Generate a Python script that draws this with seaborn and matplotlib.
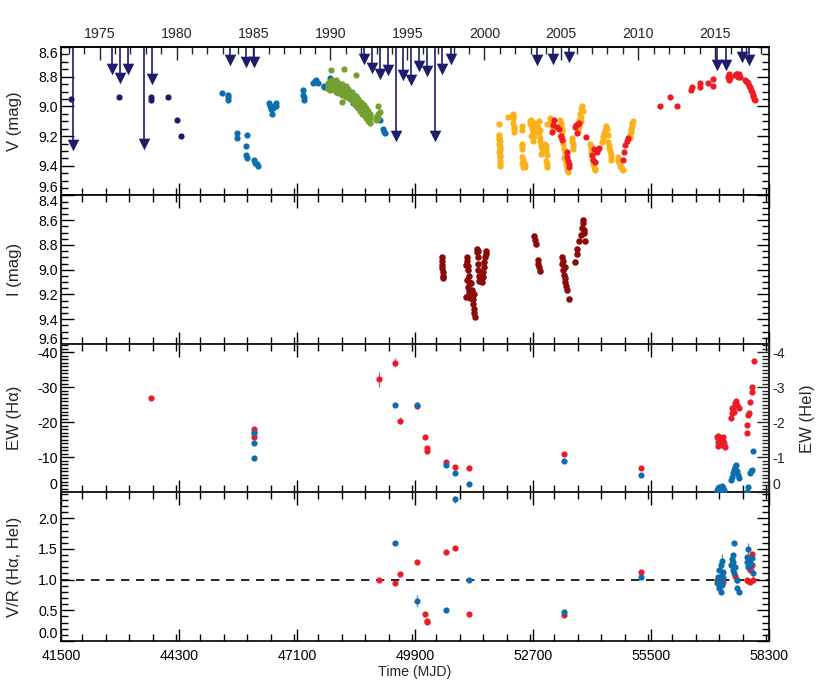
import matplotlib
matplotlib.use("Agg")
import matplotlib.pyplot as plt
from matplotlib.ticker import MultipleLocator, FormatStrFormatter
import seaborn as sns

sns.set_theme(style="ticks")
plt.rcParams["font.family"] = ["Liberation Sans", "DejaVu Sans"]
plt.rcParams["axes.unicode_minus"] = False
plt.rcParams["font.size"] = 10.2

# Colours
NAVY = "#1f1d6b"
BLUE = "#0b6fad"
GREEN = "#73a02e"
YELLOW = "#fbb21a"
RED = "#ed1c24"
DARKRED = "#8b0a0a"
GREY = "#8c8c8c"

# ---- V band: upper limits (arrows) ----
lim_mjd = [41792, 42703, 42900, 43083, 43477, 43652, 45510, 45883, 46080,
           48690, 48873, 49070, 49253, 49442, 49623, 49798, 50002, 50178,
           50375, 50548, 50747, 52788, 53168, 53555, 57074, 57281, 57653, 57833]
lim_v = [9.26, 8.75, 8.81, 8.75, 9.255, 8.815, 8.69, 8.70, 8.70,
         8.68, 8.74, 8.78, 8.755, 9.20, 8.79, 8.82, 8.725, 8.76,
         9.20, 8.75, 8.68, 8.69, 8.68, 8.67, 8.72, 8.72, 8.67, 8.69]

# ---- V band: photometry by source ----
navy_mjd = [41737, 42884, 43636, 43640, 44046, 44245, 44348]
navy_v = [8.95, 8.94, 8.935, 8.955, 8.94, 9.09, 9.20]

blue_mjd = [45328, 45456, 45470, 45460, 45669, 45680, 45907, 45900, 45895, 45910,
            46080, 46110, 46140, 46175, 46440, 46460, 46480, 46500, 46520, 46560,
            46600, 46610, 47240, 47250, 47260, 47255, 47480, 47520, 47560, 47599,
            47729, 47740, 47883, 48429, 49070, 49150, 49165, 49180]
blue_v = [8.908, 8.92, 8.94, 8.96, 9.18, 9.21, 9.19, 9.27, 9.33, 9.345,
          9.36, 9.38, 9.39, 9.40, 8.98, 9.00, 9.02, 9.05, 9.01, 9.00,
          8.98, 9.00, 8.89, 8.92, 8.94, 8.96, 8.84, 8.83, 8.82, 8.84,
          8.86, 8.87, 8.81, 8.98, 9.09, 9.15, 9.17, 9.18]

green_mjd = [47836, 47836, 47836, 47883, 47883, 47883, 47883, 47931, 47931, 47931,
             47931, 47915, 47978, 47978, 47978, 48026, 48026, 48026, 48026, 48026,
             48073, 48073, 48073, 48073, 48121, 48121, 48121, 48168, 48168, 48168,
             48168, 48160, 48216, 48216, 48216, 48208, 48263, 48263, 48263, 48263,
             48311, 48311, 48311, 48358, 48358, 48358, 48405, 48405, 48405, 48453,
             48453, 48453, 48500, 48500, 48500, 48500, 48548, 48548, 48548, 48595,
             48595, 48595, 48643, 48643, 48643, 48690, 48690, 48690, 48738, 48738,
             48738, 48785, 48785, 48785, 48833, 48833, 48833, 48975, 48975, 49022,
             49022, 49022, 49070]
green_v = [8.84, 8.86, 8.88, 8.83, 8.85, 8.87, 8.89, 8.82, 8.84, 8.86,
           8.88, 8.755, 8.83, 8.85, 8.87, 8.82, 8.84, 8.86, 8.88, 8.90,
           8.84, 8.86, 8.88, 8.91, 8.85, 8.87, 8.89, 8.85, 8.88, 8.90,
           8.92, 8.97, 8.87, 8.89, 8.91, 8.75, 8.86, 8.89, 8.92, 8.94,
           8.88, 8.91, 8.93, 8.90, 8.92, 8.95, 8.90, 8.93, 8.96, 8.92,
           8.95, 8.98, 8.93, 8.96, 9.00, 8.79, 8.95, 8.98, 9.01, 8.97,
           9.00, 9.03, 8.98, 9.02, 9.05, 8.99, 9.03, 9.06, 9.01, 9.04,
           9.08, 9.03, 9.07, 9.10, 9.05, 9.08, 9.11, 9.07, 9.09, 8.995,
           9.05, 9.08, 9.04]

yellow_mjd = [51894, 51900, 51905, 51900, 51910, 51905, 51915, 51910, 51920,
              51902, 51907, 51912, 51908, 51915, 51918,
              52095, 52214, 52225, 52235, 52240, 52250, 52220, 52245,
              52440, 52445, 52440, 52450, 52440, 52450, 52455, 52511, 52515, 52447, 52452,
              52629, 52660, 52689, 52720, 52748, 52680, 52710, 52650, 52700, 52740,
              52640, 52670, 52730,
              52830, 52850, 52867, 52890, 52910, 52900, 52850, 52875, 52880, 52860,
              52985, 53010, 53030, 53010, 53040, 53044, 53000, 53020, 53035,
              53104, 53130, 53150, 53163,
              53341, 53365, 53390, 53400, 53420, 53440, 53460, 53480, 53500, 53519,
              53350, 53430, 53355, 53380, 53410, 53450, 53470, 53490, 53510,
              53614, 53638, 53660, 53625, 53650,
              53756, 53780, 53800, 53816, 53840, 53860, 53875, 53850, 53830, 53790, 53770,
              54053, 54075, 54100, 54120, 54150, 54172, 54065, 54088, 54110, 54135, 54160,
              54340, 54370, 54409, 54430, 54450, 54468, 54390, 54355,
              54490, 54510, 54540, 54560, 54500, 54525, 54550,
              54706, 54740, 54790, 54824, 54720, 54765, 54810,
              55002, 55020, 55040, 55062, 55010, 55030, 55050]
yellow_v = [9.12, 9.19, 9.22, 9.25, 9.28, 9.31, 9.34, 9.37, 9.40,
            9.205, 9.235, 9.265, 9.295, 9.325, 9.385,
            9.07, 9.05, 9.08, 9.11, 9.14, 9.17, 9.065, 9.155,
            9.13, 9.16, 9.25, 9.29, 9.34, 9.38, 9.41, 9.39, 9.41, 9.27, 9.36,
            9.10, 9.09, 9.12, 9.11, 9.13, 9.15, 9.18, 9.20, 9.23, 9.16,
            9.12, 9.14, 9.20,
            9.14, 9.18, 9.21, 9.25, 9.29, 9.32, 9.10, 9.23, 9.27, 9.16,
            9.25, 9.29, 9.33, 9.37, 9.41, 9.12, 9.27, 9.31, 9.39,
            9.08, 9.10, 9.13, 9.16,
            9.09, 9.13, 9.17, 9.21, 9.25, 9.29, 9.33, 9.37, 9.41, 9.44,
            9.20, 9.35, 9.11, 9.15, 9.23, 9.31, 9.35, 9.39, 9.43,
            9.21, 9.25, 9.29, 9.23, 9.27,
            9.17, 9.13, 9.09, 9.05, 9.02, 9.00, 9.03, 9.10, 9.07, 9.11, 9.15,
            9.25, 9.29, 9.33, 9.37, 9.41, 9.43, 9.27, 9.31, 9.35, 9.39, 9.42,
            9.24, 9.20, 9.16, 9.13, 9.15, 9.19, 9.18, 9.22,
            9.24, 9.28, 9.32, 9.36, 9.26, 9.30, 9.34,
            9.34, 9.38, 9.41, 9.43, 9.36, 9.40, 9.42,
            9.21, 9.17, 9.13, 9.10, 9.19, 9.15, 9.11]

red_mjd = [53144, 53182, 53199, 53277, 53325, 53358, 53382,
           53500, 53515, 53531, 53545, 53555,
           53697, 53720, 53760, 53800, 53752, 53958,
           54093, 54124, 54172, 54212, 54243, 54267, 54148,
           54844, 54868, 54884, 54924, 54962,
           55714, 55944, 56110, 56443, 56467, 56663, 56663, 56846, 56965, 56965,
           57328, 57340, 57352, 57375, 57494, 57520, 57542, 57565, 57589, 57613,
           57732, 57760, 57779, 57803, 57830, 57850, 57874, 57898, 57910, 57922,
           57945, 57969]
red_v = [9.17, 9.125, 9.09, 9.137, 9.15, 9.20, 9.226,
         9.31, 9.34, 9.37, 9.39, 9.41,
         9.14, 9.125, 9.12, 9.11, 9.18, 9.205,
         9.33, 9.36, 9.375, 9.31, 9.29, 9.28, 9.29,
         9.36, 9.31, 9.26, 9.23, 9.21,
         9.00, 8.935, 8.997, 8.89, 8.867, 8.84, 8.87, 8.84, 8.815, 8.86,
         8.80, 8.82, 8.78, 8.81, 8.79, 8.78, 8.785, 8.80, 8.78, 8.80,
         8.82, 8.83, 8.835, 8.84, 8.86, 8.87, 8.89, 8.90, 8.92, 8.93,
         8.95, 8.96]

# ---- I band ----
i_mjd = [50534, 50540, 50545, 50550, 50555, 50560, 50565,
         51110, 51127, 51140, 51150, 51160, 51170, 51130, 51180, 51150, 51190, 51170, 51205, 51120,
         51240, 51253, 51265, 51275, 51285, 51300, 51310, 51320, 51290,
         51372, 51380, 51390, 51395, 51400, 51410, 51419, 51405,
         51490, 51505, 51515, 51530, 51545, 51560, 51575, 51585,
         52724, 52740, 52760, 52807, 52820, 52840, 52860,
         53389, 53400, 53410, 53420, 53436, 53450, 53470, 53484, 53500, 53460, 53562,
         53697, 53738, 53752, 53799, 53832, 53856, 53880, 53894, 53935, 53910, 53920]
i_mag = [8.90, 8.93, 8.96, 8.99, 9.02, 9.05, 9.07,
         8.96, 8.90, 8.93, 8.97, 9.00, 9.05, 9.08, 9.10, 9.14, 9.17, 9.20, 9.23, 9.22,
         9.11, 9.16, 9.20, 9.24, 9.28, 9.32, 9.35, 9.38, 9.20,
         8.83, 8.86, 8.90, 8.95, 9.00, 9.05, 9.09, 8.85,
         9.10, 9.06, 9.02, 8.98, 8.94, 8.90, 8.87, 8.85,
         8.73, 8.76, 8.79, 8.92, 8.95, 8.98, 9.01,
         8.90, 8.95, 9.00, 8.93, 9.04, 9.07, 9.10, 9.13, 9.16, 8.98, 9.24,
         8.935, 8.87, 8.83, 8.77, 8.72, 8.665, 8.625, 8.60, 8.77, 8.68, 8.70]

# ---- EW (H alpha, red; HeI, blue) ----
ewha_mjd = [43636, 46080, 46080, 46080, 49046, 49426, 49545, 49955, 50138, 50178,
            50185, 50629, 50850, 51189, 53443, 55256,
            57060, 57080, 57100, 57120, 57140, 57160, 57180, 57200, 57220, 57240, 57257, 57090,
            57392, 57415, 57454, 57494, 57518, 57549, 57589, 57420, 57470,
            57772, 57786, 57810, 57826, 57850, 57890, 57890, 57945]
ewha = [-27.1, -18.05, -17.4, -15.9, -32.3, -37.1, -20.5, -24.7, -15.7, -12.6,
        -11.7, -8.6, -7.4, -7.1, -10.9, -7.1,
        -15.9, -14.5, -13.3, -15.0, -14.0, -15.5, -13.5, -14.8, -15.8, -14.2, -13.1, -16.1,
        -21.2, -22.6, -24.1, -25.5, -26.2, -25.0, -24.1, -24.0, -23.0,
        -17.1, -19.3, -22.1, -22.6, -25.9, -30.2, -28.8, -37.4]
ewha_err_mjd = [49046, 49426, 49545, 49955]
ewha_err_val = [-32.3, -37.1, -20.5, -24.7]
ewha_err = [2.2, 1.2, 1.0, 1.0]

ewhe_mjd = [46080, 46080, 46080, 49426, 49955, 50629, 50850, 51189, 53443, 55256,
            57060, 57090, 57120, 57150, 57180, 57210, 57240, 57100,
            57392, 57415, 57440, 57470, 57494, 57518, 57540, 57560, 57589,
            57786, 57810, 57850, 57870, 57890, 57928]
ewhe = [-1.69, -1.41, -0.995, -2.5, -2.5, -0.79, -0.57, -0.23, -0.90, -0.51,
        -0.07, -0.12, -0.15, -0.10, -0.18, -0.13, -0.08, -0.03,
        -0.36, -0.45, -0.55, -0.65, -0.72, -0.79, -0.60, -0.50, -0.42,
        -0.02, -0.17, -0.55, -0.60, -0.64, -1.17]

# ---- V/R ----
vrha_mjd = [49046, 49426, 49545, 49941, 50138, 50178, 50185, 50629, 50850, 51189,
            53443, 55256, 57075, 57216, 57416, 57494, 57534, 57890, 57890, 57850,
            57772, 57810, 57850, 57928]
vrha = [1.00, 0.95, 1.09, 1.29, 0.44, 0.33, 0.31, 1.45, 1.51, 0.44,
        0.43, 1.12, 0.99, 0.96, 1.26, 1.06, 0.99, 1.42, 1.23, 1.15,
        1.00, 0.98, 0.96, 0.99]

vrhe_mjd = [49426, 49941, 50629, 50850, 51189, 53443, 55256,
            57178, 57154, 57122, 57201, 57178, 57098, 57216, 57138, 57075, 57178, 57122, 57154,
            57470, 57440, 57416, 57454, 57392, 57494, 57440, 57470, 57534, 57549, 57582,
            57810, 57772, 57850, 57890, 57772, 57866, 57810, 57928]
vrhe = [1.60, 0.65, 0.50, 2.31, 0.99, 0.47, 1.04,
        1.30, 1.23, 1.15, 1.12, 1.07, 1.04, 1.02, 0.96, 0.94, 0.91, 0.86, 0.80,
        1.60, 1.40, 1.34, 1.29, 1.23, 1.21, 1.15, 1.10, 0.99, 0.86, 0.80,
        1.50, 1.37, 1.34, 1.36, 1.29, 1.26, 1.21, 1.11]
vrhe_err_mjd = [49941, 50850, 57178, 57075, 57416, 57810, 57928]
vrhe_err_val = [0.65, 2.31, 1.30, 0.94, 1.34, 1.50, 1.11]
vrhe_err = [0.10, 0.06, 0.12, 0.10, 0.10, 0.10, 0.10]

MJD_TICKS = [41500, 44300, 47100, 49900, 52700, 55500, 58300]


def mjd_to_year(m):
    return 1858.8754 + m / 365.25


def year_to_mjd(y):
    return (y - 1858.8754) * 365.25


def style_axis(ax, right=True, top=True):
    ax.set_xlim(41500, 58300)
    ax.xaxis.set_major_locator(MultipleLocator(2800))
    ax.xaxis.set_minor_locator(MultipleLocator(560))
    ax.tick_params(which="both", direction="in", top=top, right=right,
                   width=1.0, colors="black", labelsize=10.2, pad=2.5)
    ax.tick_params(which="major", length=9)
    ax.tick_params(which="minor", length=5)
    ax.tick_params(axis="x", labelbottom=False, pad=6)
    for sp in ax.spines.values():
        sp.set_linewidth(1.2)
        sp.set_color("black")
    ax.set_facecolor("white")


def nudge_labels(ax, shift):
    # push the end labels of an axis inward so stacked panels do not collide
    for lab in ax.get_yticklabels():
        if lab.get_text() in shift:
            lab.set_verticalalignment(shift[lab.get_text()])


fig, axes = plt.subplots(4, 1, figsize=(8.3, 6.91), dpi=100, sharex=True)
fig.subplots_adjust(left=0.0735, right=0.9265, bottom=0.0724, top=0.932, hspace=0)
ax1, ax2, ax3, ax4 = axes
pt = dict(s=20, linewidth=0, legend=False, zorder=3)

# Panel 1: V magnitude
style_axis(ax1, top=False)
ax1.vlines(lim_mjd, 8.6, lim_v, color=NAVY, linewidth=1.2, zorder=2)
sns.scatterplot(x=lim_mjd, y=lim_v, marker="v", s=70, color=NAVY, linewidth=0,
                legend=False, ax=ax1, zorder=4)
sns.scatterplot(x=navy_mjd, y=navy_v, color=NAVY, ax=ax1, **pt)
sns.scatterplot(x=blue_mjd, y=blue_v, color=BLUE, ax=ax1, **pt)
sns.scatterplot(x=green_mjd, y=green_v, color=GREEN, ax=ax1, **pt)
sns.scatterplot(x=yellow_mjd, y=yellow_v, color=YELLOW, ax=ax1, **pt)
sns.scatterplot(x=red_mjd, y=red_v, color=RED, ax=ax1, **pt)
ax1.set_ylim(9.6, 8.6)
ax1.yaxis.set_major_locator(MultipleLocator(0.2))
ax1.yaxis.set_minor_locator(MultipleLocator(0.05))
ax1.yaxis.set_major_formatter(FormatStrFormatter("%.1f"))
ax1.set_ylabel("V (mag)")

top = ax1.secondary_xaxis("top", functions=(mjd_to_year, year_to_mjd))
top.xaxis.set_major_locator(MultipleLocator(5))
top.xaxis.set_minor_locator(MultipleLocator(1))
top.xaxis.set_major_formatter(FormatStrFormatter("%d"))
top.tick_params(which="both", direction="in", width=1.0, labelsize=10.2, pad=4)
top.tick_params(which="major", length=9)
top.tick_params(which="minor", length=5)
top.spines["top"].set_linewidth(1.2)

# Panel 2: I magnitude
style_axis(ax2)
sns.scatterplot(x=i_mjd, y=i_mag, color=DARKRED, ax=ax2, s=22, linewidth=0,
                legend=False, zorder=3)
ax2.set_ylim(9.6, 8.4)
ax2.yaxis.set_major_locator(MultipleLocator(0.2))
ax2.yaxis.set_minor_locator(MultipleLocator(0.05))
ax2.yaxis.set_major_formatter(FormatStrFormatter("%.1f"))
ax2.set_ylabel("I (mag)")

# Panel 3: equivalent widths
style_axis(ax3, right=False)
ax3r = ax3.twinx()
ax3.errorbar(ewha_err_mjd, ewha_err_val, yerr=ewha_err, fmt="none",
             ecolor=GREY, elinewidth=1.0, zorder=2)
sns.scatterplot(x=ewha_mjd, y=ewha, color=RED, ax=ax3, **pt)
sns.scatterplot(x=ewhe_mjd, y=ewhe, color=BLUE, ax=ax3r, **pt)
ax3.set_ylim(0, -42.4)
ax3.yaxis.set_major_locator(MultipleLocator(10))
ax3.yaxis.set_minor_locator(MultipleLocator(1))
ax3.yaxis.set_major_formatter(FormatStrFormatter("%d"))
ax3.set_ylabel("EW (H\u03b1)")
ax3r.set_ylim(0, -4.24)
ax3r.yaxis.set_major_locator(MultipleLocator(1))
ax3r.yaxis.set_minor_locator(MultipleLocator(0.1))
ax3r.yaxis.set_major_formatter(FormatStrFormatter("%d"))
ax3r.tick_params(which="both", direction="in", width=1.0, labelsize=10.2, pad=2.5)
ax3r.tick_params(which="major", length=9)
ax3r.tick_params(which="minor", length=5)
for sp in ax3r.spines.values():
    sp.set_linewidth(1.2)
ax3r.set_ylabel("EW (HeI)")
ax3r.yaxis.set_label_coords(1.044, 0.5)
ax3r.grid(False)

# Panel 4: V/R
style_axis(ax4)
ax4.axhline(1.0, color="black", linestyle=(0, (5, 4)), linewidth=1.2, zorder=1)
sns.scatterplot(x=vrha_mjd, y=vrha, color=RED, ax=ax4, **pt)
ax4.errorbar(vrhe_err_mjd, vrhe_err_val, yerr=vrhe_err, fmt="none",
             ecolor=GREY, elinewidth=1.0, zorder=2)
sns.scatterplot(x=vrhe_mjd, y=vrhe, color=BLUE, ax=ax4, **pt)
ax4.set_ylim(0, 2.42)
ax4.yaxis.set_major_locator(MultipleLocator(0.5))
ax4.yaxis.set_minor_locator(MultipleLocator(0.1))
ax4.yaxis.set_major_formatter(FormatStrFormatter("%.1f"))
ax4.set_ylabel("V/R (H\u03b1, HeI)")
ax4.set_xticks(MJD_TICKS)
ax4.xaxis.set_major_formatter(FormatStrFormatter("%d"))
ax4.tick_params(axis="x", labelbottom=True)

for ax in axes:
    ax.yaxis.set_label_coords(-0.055, 0.5)
    ax.grid(False)

fig.text(0.5, 1 - 672 / 691, "Time (MJD)", ha="center", va="center", fontsize=10.2)

fig.canvas.draw()
nudge_labels(ax1, {"8.6": "top", "9.6": "bottom"})
nudge_labels(ax2, {"8.4": "top", "9.6": "baseline"})
nudge_labels(ax3, {"0": "bottom"})
nudge_labels(ax3r, {"0": "bottom"})
nudge_labels(ax4, {"0.0": "bottom"})

fig.savefig("out.png", dpi=100, facecolor="white")
